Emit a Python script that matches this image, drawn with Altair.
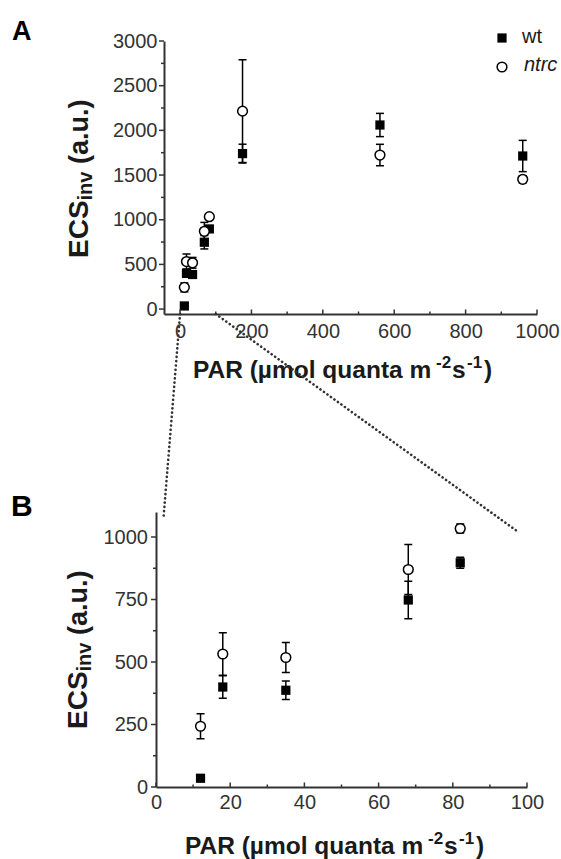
import altair as alt
import pandas as pd

# ECS_inv measured at each light intensity (mean and error)
par = [12, 18, 35, 68, 82, 175, 560, 960]
wt_mean = [35, 400, 387, 748, 897, 1740, 2060, 1713]
wt_err = [0, 45, 37, 75, 22, 105, 130, 175]
ntrc_mean = [243, 532, 518, 870, 1034, 2215, 1724, 1452]
ntrc_err = [50, 85, 60, 100, 18, 575, 120, 40]
genotypes = ["wt", "ntrc"]

# axis ticks
a_x_ticks = [0, 200, 400, 600, 800, 1000]
a_x_minor = [100, 300, 500, 700, 900]
a_y_ticks = [0, 500, 1000, 1500, 2000, 2500, 3000]
a_y_minor = [250, 750, 1250, 1750, 2250, 2750]
b_x_ticks = [0, 20, 40, 60, 80, 100]
b_x_minor = [10, 30, 50, 70, 90]
b_y_ticks = [0, 250, 500, 750, 1000]
b_y_minor = [125, 375, 625, 875]

# zoom window of panel B, marked in panel A by two dotted connectors
zoom_corners_b = [(2, 1074), (97, 1027)]
zoom_range_a = [0, 100]

FONT = "Liberation Sans, DejaVu Sans"
AXIS_C = "#333333"
TEXT_C = "#1a1a1a"

# axis title pieces: (text, font size, x offset, baseline raise)
x_title_parts = [("PAR (µmol quanta m", 24.5, 0, 0), ("-2", 17, 243, 10),
                 ("s", 24.5, 259, 0), ("-1", 17, 274, 10), (")", 24.5, 291, 0)]
y_title_parts = [("ECS", 28, 0), ("inv", 20, 4), ("(a.u.)", 27, 0)]
BOLD_W = {'E': .667, 'C': .722, 'S': .667, 'i': .278, 'n': .611, 'v': .556,
          ' ': .278, '(': .333, 'a': .556, '.': .278, 'u': .611, ')': .333}

# panel geometry
A_W, A_H = 381, 273
A_XR = [8, 381]
A_XD = [-45, 1000]
A_YD = [-55, 3000]
B_W, B_H = 371, 275
B_XD = [0, 100]
B_YD = [0, 1100]
GAP = 198

rows = []
for g, means, errs in [("wt", wt_mean, wt_err), ("ntrc", ntrc_mean, ntrc_err)]:
    for p, m, e in zip(par, means, errs):
        rows.append({"geno": g, "par": p, "mean": m, "lo": m - e, "hi": m + e})
data = pd.DataFrame(rows)


def x_axis(values, label_pad):
    return alt.Axis(values=values, ticks=False, tickSize=0, grid=False,
                    domainColor=AXIS_C, domainWidth=2,
                    labelFont=FONT, labelFontSize=20, labelColor=AXIS_C,
                    labelPadding=label_pad, labelFlush=False, labelOverlap=False,
                    labelBound=False, format="d", title=None)


def y_axis(values, label_pad, offset=0):
    kw = dict(values=values, ticks=False, tickSize=0, grid=False,
              domainColor=AXIS_C, domainWidth=2,
              labelFont=FONT, labelFontSize=20, labelColor=AXIS_C,
              labelPadding=label_pad, labelOverlap=False, labelBound=False,
              format="d", title=None)
    if offset:
        kw["offset"] = offset
    return alt.Axis(**kw)


def text_layer(txt, size, x, y, **kw):
    props = dict(font=FONT, fontSize=size, fontWeight="bold", color=TEXT_C,
                 align="left", baseline="alphabetic")
    props.update(kw)
    return alt.Chart(pd.DataFrame({"t": [txt]})).mark_text(**props).encode(
        text="t:N", x=alt.value(x), y=alt.value(y))


def panel(df, xs, ys, ax, ay, w, h, y_line_x, xt, xm, yt, ym, letter, letter_pos,
          letter_size, ytitle_pos, xtitle_pos, extra=()):
    X = lambda f: alt.X(f, type="quantitative", scale=xs, axis=ax)
    Y = lambda f: alt.Y(f, type="quantitative", scale=ys, axis=ay)
    base = alt.Chart(df)
    layers = []
    # error bars with caps
    layers.append(base.mark_rule(color="black", strokeWidth=1.5).encode(
        x=X("par"), y=Y("lo"), y2="hi"))
    for f in ["lo", "hi"]:
        layers.append(base.mark_tick(orient="horizontal", size=8, thickness=1.5,
                                     color="black", opacity=1).encode(x=X("par"), y=Y(f)))
    layers.append(base.transform_filter("datum.geno == 'wt'").mark_point(
        shape="square", filled=True, size=85, color="black", opacity=1).encode(
        x=X("par"), y=Y("mean")))
    layers.append(base.transform_filter("datum.geno == 'ntrc'").mark_point(
        shape="circle", filled=True, fill="white", stroke="black", strokeWidth=1.5,
        size=95, opacity=1).encode(x=X("par"), y=Y("mean")))
    # tick marks: x ticks point inward, y ticks outward
    for vals, ln in [(xt, 4.5), (xm, 2.5)]:
        layers.append(alt.Chart(pd.DataFrame({"v": vals})).mark_rule(
            color=AXIS_C, strokeWidth=1.5).encode(
            x=X("v"), y=alt.value(h), y2=alt.value(h - ln)))
    for vals, ln in [(yt, 5), (ym, 3)]:
        layers.append(alt.Chart(pd.DataFrame({"v": vals})).mark_rule(
            color=AXIS_C, strokeWidth=1.5).encode(
            y=Y("v"), x=alt.value(y_line_x), x2=alt.value(y_line_x - ln)))
    # panel letter
    layers.append(text_layer(letter, letter_size, letter_pos[0], letter_pos[1],
                             color="black"))
    # y title: ECS with subscript "inv", reading upwards
    tx, ty = ytitle_pos
    for i, (txt, size, shift) in enumerate(y_title_parts):
        if i == 2:
            ty -= BOLD_W[' '] * size
        layers.append(text_layer(txt, size, tx + shift, ty, angle=270))
        ty -= sum(BOLD_W[c] for c in txt) * size
    # x title with superscript exponents
    sx, sy = xtitle_pos
    for txt, size, dx, raise_ in x_title_parts:
        layers.append(text_layer(txt, size, sx + dx, sy - raise_))
    layers.extend(extra)
    return alt.layer(*layers).properties(width=w, height=h)


xs_a = alt.Scale(domain=A_XD, range=A_XR, nice=False, zero=False)
ys_a = alt.Scale(domain=A_YD, nice=False, zero=False)
xs_b = alt.Scale(domain=B_XD, nice=False, zero=False)
ys_b = alt.Scale(domain=B_YD, nice=False, zero=False)
ax_a = x_axis(a_x_ticks, 7.5)
ay_a = y_axis(a_y_ticks, 7, offset=-A_XR[0])
ax_b = x_axis(b_x_ticks, 5.5)
ay_b = y_axis(b_y_ticks, 8.5)

# legend inside panel A
legend = [
    alt.Chart(pd.DataFrame({"g": ["wt"]})).mark_point(
        shape="square", filled=True, size=85, color="black", opacity=1).encode(
        x=alt.value(346), y=alt.value(-3)),
    alt.Chart(pd.DataFrame({"g": ["ntrc"]})).mark_point(
        shape="circle", filled=True, fill="white", stroke="black", strokeWidth=1.5,
        size=95, opacity=1).encode(x=alt.value(346), y=alt.value(26)),
    text_layer("wt", 20, 366, -4, fontWeight="normal", baseline="middle"),
    text_layer("ntrc", 20, 368, 24, fontWeight="normal", fontStyle="italic",
               baseline="middle"),
]


def a_to_b(x, y):
    """Convert a point in panel A's data space to panel B's data space."""
    px = A_XR[0] + (x - A_XD[0]) / (A_XD[1] - A_XD[0]) * (A_XR[1] - A_XR[0])
    py = A_H * (1 - (y - A_YD[0]) / (A_YD[1] - A_YD[0])) - (A_H + GAP)
    return (B_XD[0] + px / B_W * (B_XD[1] - B_XD[0]),
            B_YD[0] + (1 - py / B_H) * (B_YD[1] - B_YD[0]))


conn_rows = []
for xa, (xb, yb) in zip(zoom_range_a, zoom_corners_b):
    sx, sy = a_to_b(xa, A_YD[0])
    conn_rows.append({"x": sx, "y": sy, "x2": xb, "y2": yb})
connectors = alt.Chart(pd.DataFrame(conn_rows)).mark_rule(
    color="#333333", strokeWidth=2.6, strokeCap="round", strokeDash=[0.1, 4.2]).encode(
    x=alt.X("x:Q", scale=xs_b, axis=ax_b), x2="x2",
    y=alt.Y("y:Q", scale=ys_b, axis=ay_b), y2="y2")

panel_a = panel(data, xs_a, ys_a, ax_a, ay_a, A_W, A_H, A_XR[0],
                a_x_ticks, a_x_minor, a_y_ticks, a_y_minor,
                "A", (-144, -1), 27, (-68, 217), (37, 337), extra=legend)
panel_b = panel(data[data["par"] <= 100], xs_b, ys_b, ax_b, ay_b, B_W, B_H, 0,
                b_x_ticks, b_x_minor, b_y_ticks, b_y_minor,
                "B", (-145, 4), 30, (-69, 217), (29, 342), extra=[connectors])

chart = alt.vconcat(panel_a, panel_b, spacing=GAP, bounds="flush").properties(
    padding={"left": 11, "top": 18, "right": 0, "bottom": 0},
    background="white",
).configure_view(stroke=None)

chart.save("out.html", embed_options={"renderer": "svg", "actions": False})
